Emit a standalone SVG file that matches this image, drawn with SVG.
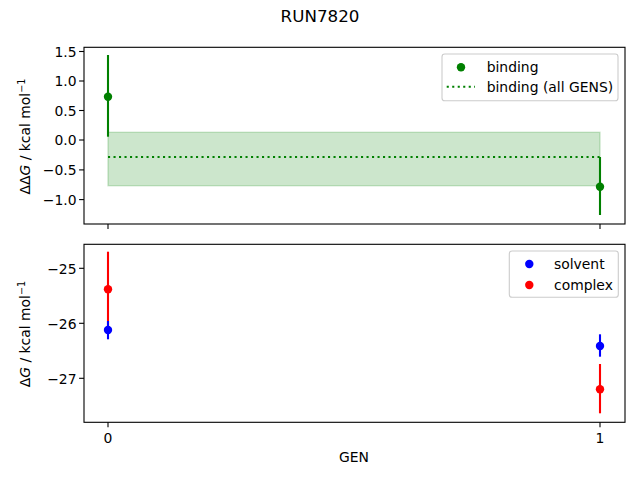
<svg xmlns="http://www.w3.org/2000/svg" width="640" height="480" viewBox="0 0 640 480">
<style>
text{font-family:"DejaVu Sans",sans-serif;font-size:13.9px;fill:#000}
.spine{fill:none;stroke:#000;stroke-width:1.1}
.tick{stroke:#000;stroke-width:1.1}
.tl{text-anchor:end}
.tc{text-anchor:middle}
.eg{stroke:#008000;stroke-width:2.1}
.eb{stroke:#0000ff;stroke-width:2.1}
.er{stroke:#ff0000;stroke-width:2.1}
.legend{fill:#fff;fill-opacity:0.8;stroke:#cccccc;stroke-width:1.1}
</style>
<rect width="640" height="480" fill="#fff"/>
<text x="320" y="22" class="tc" style="font-size:16.7px">RUN7820</text>

<g id="top-axes">
  <rect x="108" y="132.3" width="492" height="53.4" fill="#008000" fill-opacity="0.2" stroke="#008000" stroke-opacity="0.2" stroke-width="1.4"/>
  <line x1="108" y1="157" x2="600" y2="157" stroke="#008000" stroke-width="2.1" stroke-dasharray="2.1,3.4"/>
  <line class="eg" x1="108" y1="55" x2="108" y2="136.7"/>
  <circle cx="108" cy="96.7" r="4.2" fill="#008000"/>
  <line class="eg" x1="600" y1="157" x2="600" y2="215"/>
  <circle cx="600" cy="186.7" r="4.2" fill="#008000"/>
  <rect class="spine" x="84" y="47.3" width="541" height="176.7"/>
  <g class="tick">
    <line x1="84" y1="51.5" x2="79.1" y2="51.5"/>
    <line x1="84" y1="81" x2="79.1" y2="81"/>
    <line x1="84" y1="110.5" x2="79.1" y2="110.5"/>
    <line x1="84" y1="140" x2="79.1" y2="140"/>
    <line x1="84" y1="169.9" x2="79.1" y2="169.9"/>
    <line x1="84" y1="199.6" x2="79.1" y2="199.6"/>
    <line x1="108" y1="224" x2="108" y2="228.9"/>
    <line x1="600" y1="224" x2="600" y2="228.9"/>
  </g>
  <text x="76.5" y="56.8" class="tl">1.5</text>
  <text x="76.5" y="86.3" class="tl">1.0</text>
  <text x="76.5" y="115.8" class="tl">0.5</text>
  <text x="76.5" y="145.3" class="tl">0.0</text>
  <text x="76.5" y="175.2" class="tl">−0.5</text>
  <text x="76.5" y="204.9" class="tl">−1.0</text>
  <text transform="translate(29.5,136.5) rotate(-90)" class="tc">ΔΔ<tspan font-style="italic">G</tspan> / kcal mol<tspan dy="-5" style="font-size:9.7px">−1</tspan></text>
  <g id="legend-top">
    <rect class="legend" x="442" y="54" width="176" height="46.7" rx="2.8"/>
    <circle cx="461" cy="67.3" r="4.2" fill="#008000"/>
    <text x="486.7" y="72">binding</text>
    <line x1="446.7" y1="86.7" x2="475" y2="86.7" stroke="#008000" stroke-width="2.1" stroke-dasharray="2.1,3.4"/>
    <text x="486.7" y="92">binding (all GENS)</text>
  </g>
</g>

<g id="bottom-axes">
  <line class="er" x1="108" y1="251.7" x2="108" y2="327"/>
  <line class="eb" x1="108" y1="321" x2="108" y2="339.3"/>
  <circle cx="108" cy="289.3" r="4.2" fill="#ff0000"/>
  <circle cx="108" cy="330" r="4.2" fill="#0000ff"/>
  <line class="eb" x1="600" y1="334.3" x2="600" y2="356.7"/>
  <circle cx="600" cy="346" r="4.2" fill="#0000ff"/>
  <line class="er" x1="600" y1="364" x2="600" y2="413.3"/>
  <circle cx="600" cy="389.3" r="4.2" fill="#ff0000"/>
  <rect class="spine" x="84" y="244.3" width="541" height="178"/>
  <g class="tick">
    <line x1="84" y1="268.3" x2="79.1" y2="268.3"/>
    <line x1="84" y1="323.3" x2="79.1" y2="323.3"/>
    <line x1="84" y1="378.3" x2="79.1" y2="378.3"/>
    <line x1="108" y1="422.3" x2="108" y2="427.2"/>
    <line x1="600" y1="422.3" x2="600" y2="427.2"/>
  </g>
  <text x="76.5" y="273.6" class="tl">−25</text>
  <text x="76.5" y="328.6" class="tl">−26</text>
  <text x="76.5" y="383.6" class="tl">−27</text>
  <text x="108" y="443" class="tc">0</text>
  <text x="600" y="443" class="tc">1</text>
  <text x="354" y="462" class="tc">GEN</text>
  <text transform="translate(29.5,334) rotate(-90)" class="tc">Δ<tspan font-style="italic">G</tspan> / kcal mol<tspan dy="-5" style="font-size:9.7px">−1</tspan></text>
  <g id="legend-bottom">
    <rect class="legend" x="509.3" y="251" width="109" height="46.3" rx="2.8"/>
    <circle cx="529.3" cy="264" r="4.2" fill="#0000ff"/>
    <text x="554" y="268.7">solvent</text>
    <circle cx="529.3" cy="285" r="4.2" fill="#ff0000"/>
    <text x="554" y="289.7">complex</text>
  </g>
</g>
</svg>
